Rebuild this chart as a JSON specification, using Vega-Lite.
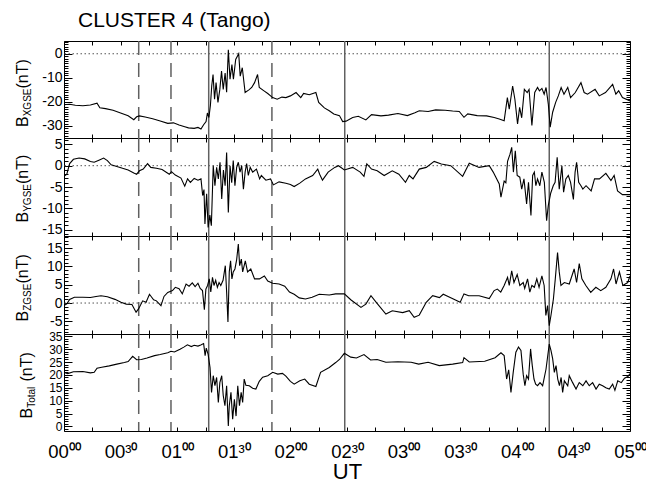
{
"$schema": "https://vega.github.io/schema/vega-lite/v6.json",
"padding": {"left": 13, "top": 9, "right": 17, "bottom": 5},
"spacing": 0,
"bounds": "flush",
"config": {"font": "Liberation Sans", "view": {"stroke": "black", "strokeWidth": 1}, "axis": {"tickColor": "black", "labelColor": "black", "titleColor": "black", "titleFontWeight": "normal", "tickWidth": 1}, "concat": {"spacing": 0}},
"datasets": {
"one": [{"z": 0}],
"events": [{"t": 39.6, "kind": "dashed"}, {"t": 56.7, "kind": "dashed"}, {"t": 110.2, "kind": "dashed"}, {"t": 76.7, "kind": "solid"}, {"t": 148.8, "kind": "solid"}, {"t": 257.2, "kind": "solid"}],
"bx": [{"t":0,"v":-21.2},{"t":3,"v":-21.0},{"t":6,"v":-21.4},{"t":10,"v":-21.6},{"t":14,"v":-21.3},{"t":17.5,"v":-20.5},{"t":19,"v":-22.4},{"t":22,"v":-22.8},{"t":26,"v":-23.5},{"t":30,"v":-24.6},{"t":34,"v":-25.8},{"t":37,"v":-27.4},{"t":38.5,"v":-26.2},{"t":40,"v":-25.8},{"t":43,"v":-26.3},{"t":47,"v":-27.0},{"t":51,"v":-27.9},{"t":55,"v":-28.9},{"t":58,"v":-28.7},{"t":61,"v":-29.6},{"t":64,"v":-30.3},{"t":66,"v":-30.8},{"t":69,"v":-31.0},{"t":71,"v":-30.6},{"t":72.6,"v":-31.3},{"t":74,"v":-29.5},{"t":75.3,"v":-28.2},{"t":76,"v":-24.6},{"t":76.8,"v":-26.5},{"t":77.6,"v":-21.5},{"t":78.3,"v":-13.4},{"t":79,"v":-8.6},{"t":79.8,"v":-18.9},{"t":80.6,"v":-12.0},{"t":81.6,"v":-20.2},{"t":82.6,"v":-14.8},{"t":83.5,"v":-7.2},{"t":84.4,"v":-14.8},{"t":85.4,"v":-8.0},{"t":86.2,"v":-16.0},{"t":87.1,"v":1.7},{"t":88,"v":-10.6},{"t":89,"v":-4.5},{"t":89.8,"v":-10.6},{"t":91,"v":-2.4},{"t":92.6,"v":0.0},{"t":93.4,"v":-9.3},{"t":94.5,"v":-5.8},{"t":96,"v":-16.1},{"t":98,"v":-15.0},{"t":99.5,"v":-14.0},{"t":101,"v":-12.0},{"t":102.6,"v":-8.6},{"t":103.5,"v":-14.0},{"t":106,"v":-15.4},{"t":108,"v":-16.5},{"t":110.6,"v":-18.2},{"t":113,"v":-18.9},{"t":115.5,"v":-18.0},{"t":117.6,"v":-18.2},{"t":120,"v":-17.5},{"t":123,"v":-16.1},{"t":125.5,"v":-18.2},{"t":127,"v":-16.5},{"t":130,"v":-17.0},{"t":133.5,"v":-16.1},{"t":135,"v":-20.2},{"t":138,"v":-22.5},{"t":140.6,"v":-23.7},{"t":143,"v":-25.0},{"t":146,"v":-25.7},{"t":147.7,"v":-28.2},{"t":149.5,"v":-28.0},{"t":153,"v":-26.5},{"t":156,"v":-26.0},{"t":160,"v":-27.5},{"t":163,"v":-25.3},{"t":168,"v":-25.8},{"t":172,"v":-25.5},{"t":177,"v":-24.8},{"t":182,"v":-25.7},{"t":186,"v":-24.5},{"t":188.3,"v":-23.7},{"t":193,"v":-24.0},{"t":197,"v":-23.3},{"t":202,"v":-23.5},{"t":206,"v":-23.8},{"t":209.5,"v":-24.0},{"t":212,"v":-26.4},{"t":214,"v":-25.0},{"t":219,"v":-25.7},{"t":224,"v":-25.8},{"t":228,"v":-26.5},{"t":230.7,"v":-27.1},{"t":233.3,"v":-27.8},{"t":235,"v":-18.2},{"t":236,"v":-23.0},{"t":237.8,"v":-13.4},{"t":239,"v":-19.0},{"t":240.4,"v":-29.2},{"t":241.5,"v":-22.3},{"t":242.6,"v":-26.6},{"t":244,"v":-14.8},{"t":245.5,"v":-16.1},{"t":246.5,"v":-14.8},{"t":248,"v":-29.8},{"t":249.5,"v":-16.1},{"t":251,"v":-14.0},{"t":252,"v":-15.4},{"t":253.3,"v":-14.4},{"t":254.5,"v":-16.8},{"t":255.5,"v":-14.0},{"t":256.7,"v":-20.9},{"t":257.7,"v":-30.5},{"t":259,"v":-24.3},{"t":260.6,"v":-20.2},{"t":262,"v":-17.5},{"t":263.5,"v":-14.0},{"t":265,"v":-16.8},{"t":267,"v":-14.0},{"t":268.5,"v":-18.2},{"t":271,"v":-16.1},{"t":274,"v":-12.0},{"t":275.7,"v":-16.1},{"t":277.5,"v":-16.8},{"t":281.5,"v":-14.8},{"t":283.7,"v":-17.5},{"t":287,"v":-16.1},{"t":290.8,"v":-12.7},{"t":292.5,"v":-16.8},{"t":294,"v":-15.4},{"t":296,"v":-18.2},{"t":300,"v":-19.6}],
"by": [{"t":0,"v":-2.5},{"t":1.5,"v":-2.0},{"t":3,"v":0.5},{"t":5,"v":1.5},{"t":8,"v":1.8},{"t":11,"v":1.6},{"t":14,"v":1.0},{"t":16,"v":0.8},{"t":18.5,"v":1.3},{"t":21,"v":1.8},{"t":23,"v":1.2},{"t":25,"v":0.2},{"t":28,"v":-0.2},{"t":31,"v":-0.6},{"t":34,"v":-1.0},{"t":37,"v":-1.7},{"t":38.5,"v":-2.0},{"t":40,"v":-1.2},{"t":42,"v":-0.8},{"t":44.3,"v":0.5},{"t":46,"v":-0.4},{"t":49,"v":-0.6},{"t":52,"v":-0.9},{"t":55.8,"v":-2.0},{"t":57,"v":-1.4},{"t":59,"v":-2.2},{"t":62,"v":-2.9},{"t":64,"v":-4.8},{"t":65.5,"v":-3.1},{"t":67,"v":-3.9},{"t":69,"v":-3.0},{"t":71,"v":-3.4},{"t":72.6,"v":-3.1},{"t":73.5,"v":-7.0},{"t":74.2,"v":-5.6},{"t":74.7,"v":-13.7},{"t":75.6,"v":-6.6},{"t":76.4,"v":-14.5},{"t":77.3,"v":-11.6},{"t":78.1,"v":-14.1},{"t":79.1,"v":0.0},{"t":80,"v":-4.7},{"t":80.9,"v":-0.4},{"t":81.8,"v":-3.1},{"t":82.7,"v":0.8},{"t":83.6,"v":-7.8},{"t":84.5,"v":-1.0},{"t":85.4,"v":-4.7},{"t":86.2,"v":3.1},{"t":87.1,"v":-11.0},{"t":88,"v":0.0},{"t":88.9,"v":-4.0},{"t":89.7,"v":1.2},{"t":90.6,"v":-4.7},{"t":91.5,"v":-0.4},{"t":92.4,"v":0.8},{"t":93.3,"v":-1.5},{"t":94.2,"v":0.0},{"t":95.1,"v":-5.5},{"t":96,"v":-1.5},{"t":96.8,"v":0.5},{"t":97.7,"v":-2.3},{"t":98.7,"v":-0.4},{"t":100,"v":-1.5},{"t":102,"v":-0.8},{"t":103.7,"v":-3.1},{"t":104.6,"v":-2.3},{"t":107,"v":-3.4},{"t":109.5,"v":-3.1},{"t":111,"v":-4.5},{"t":114,"v":-3.8},{"t":117.6,"v":-4.1},{"t":120,"v":-4.4},{"t":122,"v":-4.9},{"t":125,"v":-4.1},{"t":128,"v":-3.1},{"t":131.8,"v":-2.3},{"t":134.5,"v":-0.8},{"t":135.5,"v":-2.0},{"t":137,"v":-3.4},{"t":140,"v":-1.5},{"t":143.5,"v":-0.4},{"t":145.5,"v":0.0},{"t":148.6,"v":-1.0},{"t":153,"v":-0.4},{"t":157,"v":-1.5},{"t":159,"v":-2.5},{"t":160.5,"v":0.4},{"t":163,"v":-0.8},{"t":166,"v":-1.2},{"t":169.7,"v":-2.3},{"t":174,"v":-1.2},{"t":177.5,"v":-2.0},{"t":181,"v":-3.9},{"t":183,"v":-2.3},{"t":185,"v":-3.1},{"t":188.3,"v":-0.8},{"t":192,"v":-0.4},{"t":196.2,"v":1.0},{"t":200,"v":0.4},{"t":205,"v":0.0},{"t":211.3,"v":-2.5},{"t":214.8,"v":0.6},{"t":220,"v":-0.4},{"t":225.4,"v":0.0},{"t":227.5,"v":-1.5},{"t":230.7,"v":-4.3},{"t":231.6,"v":-7.4},{"t":233.3,"v":-3.6},{"t":234.2,"v":-4.0},{"t":235.1,"v":1.0},{"t":236.4,"v":2.7},{"t":237.3,"v":4.3},{"t":238.2,"v":-1.5},{"t":239.2,"v":3.5},{"t":240.2,"v":-2.3},{"t":241.6,"v":-2.7},{"t":242.6,"v":-5.5},{"t":243.8,"v":-3.1},{"t":245.2,"v":-9.0},{"t":246.2,"v":-3.9},{"t":247.5,"v":-11.7},{"t":248.4,"v":-2.3},{"t":249.3,"v":-1.5},{"t":250.1,"v":-4.7},{"t":251,"v":-3.1},{"t":252.2,"v":-4.7},{"t":253.3,"v":-1.5},{"t":254.6,"v":-3.9},{"t":255.8,"v":-12.9},{"t":256.7,"v":-9.3},{"t":258,"v":-6.4},{"t":259.3,"v":-4.7},{"t":260.3,"v":-3.9},{"t":261.4,"v":2.0},{"t":262.5,"v":-5.5},{"t":263.9,"v":0.0},{"t":264.8,"v":-6.2},{"t":266,"v":-3.1},{"t":267.3,"v":-2.3},{"t":268.5,"v":-3.9},{"t":270,"v":-7.9},{"t":270.9,"v":-1.5},{"t":271.7,"v":0.8},{"t":272.8,"v":-3.9},{"t":274,"v":-4.7},{"t":275,"v":-5.5},{"t":276.7,"v":-4.7},{"t":279.4,"v":-5.9},{"t":281.2,"v":-3.1},{"t":283.8,"v":-3.1},{"t":287.2,"v":-1.8},{"t":289.9,"v":-3.5},{"t":291.6,"v":-2.3},{"t":293.4,"v":-5.9},{"t":296,"v":-6.8},{"t":300,"v":-6.8}],
"bz": [{"t":0,"v":-0.7},{"t":1.5,"v":-0.2},{"t":3,"v":1.0},{"t":5.5,"v":1.6},{"t":10,"v":1.6},{"t":14,"v":1.5},{"t":17,"v":1.8},{"t":19.6,"v":2.0},{"t":23,"v":1.7},{"t":27,"v":1.0},{"t":30.2,"v":0.2},{"t":33,"v":-0.3},{"t":36,"v":-0.4},{"t":38.2,"v":-2.5},{"t":39.5,"v":-1.6},{"t":41.7,"v":0.6},{"t":43.5,"v":0.2},{"t":45.3,"v":2.4},{"t":47.5,"v":0.9},{"t":49,"v":0.6},{"t":51.4,"v":-0.7},{"t":53,"v":1.8},{"t":55,"v":2.9},{"t":57.5,"v":3.4},{"t":59,"v":4.3},{"t":61,"v":3.9},{"t":62.7,"v":2.5},{"t":64.7,"v":5.2},{"t":66.3,"v":4.6},{"t":68,"v":5.5},{"t":69.5,"v":4.5},{"t":71,"v":5.4},{"t":72.2,"v":4.0},{"t":73.4,"v":3.4},{"t":74.4,"v":-1.8},{"t":75.2,"v":3.8},{"t":76.1,"v":4.8},{"t":77,"v":6.6},{"t":77.8,"v":3.0},{"t":78.7,"v":7.0},{"t":79.5,"v":4.8},{"t":80.4,"v":6.2},{"t":81.3,"v":4.3},{"t":82.2,"v":5.6},{"t":83.1,"v":4.8},{"t":84.3,"v":6.2},{"t":85.5,"v":10.2},{"t":86.2,"v":3.0},{"t":86.9,"v":-5.2},{"t":87.6,"v":8.5},{"t":88.3,"v":11.5},{"t":89,"v":6.6},{"t":89.7,"v":8.5},{"t":90.6,"v":9.3},{"t":91.5,"v":11.8},{"t":92.4,"v":16.1},{"t":93.1,"v":10.2},{"t":94,"v":12.0},{"t":94.7,"v":8.5},{"t":96.1,"v":11.5},{"t":97.3,"v":8.5},{"t":99,"v":9.3},{"t":101,"v":6.6},{"t":103.6,"v":6.6},{"t":106.2,"v":7.4},{"t":108,"v":6.0},{"t":110.6,"v":5.4},{"t":114,"v":5.2},{"t":117,"v":4.6},{"t":119.5,"v":3.0},{"t":122,"v":2.4},{"t":124.7,"v":1.4},{"t":128,"v":1.1},{"t":131.5,"v":1.6},{"t":135.3,"v":2.4},{"t":140.6,"v":2.2},{"t":144,"v":2.5},{"t":148.6,"v":2.5},{"t":152,"v":0.9},{"t":157.4,"v":-1.2},{"t":160,"v":-0.3},{"t":162.7,"v":2.0},{"t":165.5,"v":0.2},{"t":170.6,"v":-3.0},{"t":174,"v":-2.1},{"t":179.5,"v":-2.6},{"t":183,"v":-2.1},{"t":185.6,"v":-3.9},{"t":188.3,"v":-3.3},{"t":192,"v":0.2},{"t":195.4,"v":2.0},{"t":199,"v":1.5},{"t":201,"v":2.4},{"t":204.7,"v":1.5},{"t":210,"v":0.2},{"t":212,"v":2.5},{"t":214.5,"v":2.0},{"t":220,"v":2.0},{"t":225.4,"v":1.2},{"t":228,"v":3.4},{"t":229.7,"v":3.8},{"t":231.5,"v":3.0},{"t":233.3,"v":4.8},{"t":235.1,"v":7.0},{"t":236,"v":4.8},{"t":237.3,"v":8.8},{"t":238.5,"v":5.6},{"t":240.2,"v":7.8},{"t":241.6,"v":4.8},{"t":243.4,"v":5.6},{"t":244.2,"v":4.0},{"t":245.7,"v":6.6},{"t":246.9,"v":3.0},{"t":248,"v":4.8},{"t":249.3,"v":4.3},{"t":250.6,"v":6.6},{"t":251.8,"v":4.3},{"t":253.3,"v":7.4},{"t":254.5,"v":4.8},{"t":255.4,"v":-3.4},{"t":256.3,"v":-0.7},{"t":257.2,"v":-6.2},{"t":258.1,"v":-3.4},{"t":259.4,"v":1.1},{"t":260.4,"v":6.6},{"t":261.6,"v":13.8},{"t":262.5,"v":8.5},{"t":263.4,"v":4.8},{"t":265.2,"v":5.6},{"t":267.8,"v":5.2},{"t":270.4,"v":9.3},{"t":271.7,"v":5.6},{"t":273.1,"v":10.8},{"t":274.5,"v":6.6},{"t":276.6,"v":4.8},{"t":279.2,"v":2.9},{"t":281.9,"v":4.3},{"t":284.5,"v":3.4},{"t":287.2,"v":4.3},{"t":289.9,"v":6.6},{"t":291.3,"v":9.3},{"t":292.6,"v":5.2},{"t":294.4,"v":8.5},{"t":296.2,"v":4.8},{"t":298.8,"v":5.6},{"t":300,"v":7.4}],
"bt": [{"t":0,"v":21.0},{"t":2,"v":20.5},{"t":5,"v":21.2},{"t":10,"v":21.3},{"t":14,"v":20.8},{"t":16,"v":21.0},{"t":17.5,"v":22.6},{"t":20,"v":23.0},{"t":24,"v":23.5},{"t":28,"v":24.2},{"t":32,"v":24.8},{"t":34,"v":25.2},{"t":36.4,"v":27.2},{"t":38.5,"v":25.9},{"t":41,"v":26.0},{"t":44,"v":26.6},{"t":48,"v":27.5},{"t":51,"v":27.9},{"t":55,"v":28.6},{"t":56.7,"v":29.2},{"t":58.5,"v":28.9},{"t":61.5,"v":30.0},{"t":63.5,"v":30.8},{"t":65.4,"v":31.7},{"t":67.5,"v":31.0},{"t":69,"v":31.5},{"t":71,"v":31.2},{"t":72.5,"v":31.6},{"t":74,"v":32.2},{"t":74.8,"v":27.5},{"t":75.4,"v":30.4},{"t":76.4,"v":28.0},{"t":77.4,"v":22.9},{"t":78.2,"v":13.2},{"t":79.1,"v":19.7},{"t":80,"v":15.8},{"t":80.9,"v":19.0},{"t":81.8,"v":9.3},{"t":82.6,"v":17.0},{"t":83.6,"v":19.7},{"t":84.4,"v":12.0},{"t":85.3,"v":8.0},{"t":86.2,"v":15.8},{"t":87.1,"v":0.2},{"t":87.6,"v":8.0},{"t":88.5,"v":13.2},{"t":89.4,"v":2.8},{"t":90.3,"v":10.5},{"t":91.2,"v":4.0},{"t":92.1,"v":15.8},{"t":93,"v":8.0},{"t":93.9,"v":13.2},{"t":94.7,"v":9.3},{"t":95.5,"v":18.4},{"t":96.4,"v":16.0},{"t":98.2,"v":15.8},{"t":100,"v":14.8},{"t":101.7,"v":14.5},{"t":103.5,"v":17.5},{"t":105.3,"v":19.1},{"t":108,"v":19.7},{"t":110.6,"v":21.0},{"t":113.3,"v":20.3},{"t":115.8,"v":20.6},{"t":117.6,"v":19.5},{"t":120,"v":17.5},{"t":122,"v":16.4},{"t":125,"v":17.7},{"t":127.6,"v":18.4},{"t":130,"v":16.4},{"t":133.5,"v":15.5},{"t":136,"v":21.0},{"t":140.6,"v":22.9},{"t":144,"v":24.8},{"t":146,"v":26.0},{"t":148.6,"v":28.4},{"t":152,"v":26.9},{"t":155,"v":26.6},{"t":159,"v":27.9},{"t":162.5,"v":25.8},{"t":166,"v":26.0},{"t":170.6,"v":24.9},{"t":177,"v":25.1},{"t":184,"v":24.9},{"t":188,"v":24.2},{"t":193,"v":24.9},{"t":198.9,"v":23.6},{"t":206,"v":24.2},{"t":211.3,"v":24.8},{"t":212,"v":26.7},{"t":214.8,"v":25.0},{"t":223,"v":25.3},{"t":228.5,"v":26.7},{"t":231.6,"v":28.6},{"t":233.3,"v":27.5},{"t":234.6,"v":18.4},{"t":235.7,"v":22.0},{"t":236.9,"v":13.2},{"t":238.1,"v":21.0},{"t":239.5,"v":28.8},{"t":240.9,"v":30.8},{"t":242.2,"v":29.5},{"t":243.4,"v":20.2},{"t":244.3,"v":15.8},{"t":245.2,"v":19.7},{"t":246.2,"v":18.4},{"t":247.3,"v":30.1},{"t":248.2,"v":23.6},{"t":249.1,"v":18.4},{"t":250,"v":16.4},{"t":251,"v":15.8},{"t":252.3,"v":17.0},{"t":253.7,"v":15.8},{"t":255.5,"v":22.3},{"t":257.2,"v":32.0},{"t":258.1,"v":29.5},{"t":259,"v":26.3},{"t":259.9,"v":21.0},{"t":260.8,"v":23.6},{"t":261.7,"v":18.4},{"t":262.6,"v":15.8},{"t":263.5,"v":19.0},{"t":264.3,"v":13.2},{"t":265.2,"v":17.7},{"t":267,"v":15.8},{"t":267.8,"v":19.7},{"t":269.6,"v":17.0},{"t":271.4,"v":14.5},{"t":273.1,"v":17.0},{"t":275,"v":15.8},{"t":276.7,"v":17.7},{"t":278.4,"v":15.8},{"t":280.2,"v":17.0},{"t":282,"v":14.5},{"t":283.7,"v":16.4},{"t":285.5,"v":15.8},{"t":287.2,"v":15.0},{"t":289,"v":14.5},{"t":290.8,"v":16.4},{"t":292,"v":14.0},{"t":293.5,"v":17.7},{"t":295.4,"v":17.0},{"t":297.1,"v":18.7},{"t":298.9,"v":19.4},{"t":300,"v":20.5}]
},
"vconcat": [
{
"width": 566, "height": 97,
"title": {"text": "CLUSTER 4 (Tango)", "anchor": "start", "frame": "group", "dx": 14, "offset": -8, "baseline": "alphabetic", "fontSize": 21, "fontWeight": "normal", "color": "black"},
"layer": [
{"data": {"name": "one"}, "mark": {"type": "rule", "color": "#555555", "strokeDash": [1.5, 2.5], "strokeWidth": 1},
 "encoding": {"y": {"datum": 0, "type": "quantitative", "scale": {"domain": [-35, 5.3], "nice": false, "zero": false},
   "axis": {"orient": "right", "values": [-35,-34,-33,-32,-31,-30,-29,-28,-27,-26,-25,-24,-23,-22,-21,-20,-19,-18,-17,-16,-15,-14,-13,-12,-11,-10,-9,-8,-7,-6,-5,-4,-3,-2,-1,0,1,2,3,4,5], "labels": false, "tickSize": {"condition": {"test": "datum.value % 10 == 0", "value": -8}, "value": -4}, "domain": false, "grid": false, "title": null}}}},
{"data": {"name": "events"}, "transform": [{"filter": "datum.kind == 'dashed'"}], "mark": {"type": "rule", "color": "#606060", "strokeDash": [14, 8], "strokeWidth": 1.5},
 "encoding": {"x": {"field": "t", "type": "quantitative", "scale": {"domain": [0, 300], "nice": false, "zero": false},
   "axis": {"orient": "top", "values": [0,15,30,45,60,75,90,105,120,135,150,165,180,195,210,225,240,255,270,285,300], "labels": false, "tickSize": -4, "domain": false, "grid": false, "title": null}}}},
{"data": {"name": "events"}, "transform": [{"filter": "datum.kind == 'solid'"}], "mark": {"type": "rule", "color": "#606060", "strokeWidth": 1.5},
 "encoding": {"x": {"field": "t", "type": "quantitative", "scale": {"domain": [0, 300], "nice": false, "zero": false}, "axis": null}}},
{"data": {"name": "one"}, "mark": {"type": "rule", "opacity": 0},
 "encoding": {"y": {"datum": 0, "type": "quantitative", "scale": {"domain": [-35, 5.3], "nice": false, "zero": false},
   "axis": {"orient": "left", "values": [-35,-34,-33,-32,-31,-30,-29,-28,-27,-26,-25,-24,-23,-22,-21,-20,-19,-18,-17,-16,-15,-14,-13,-12,-11,-10,-9,-8,-7,-6,-5,-4,-3,-2,-1,0,1,2,3,4,5], "ticks": true, "tickSize": -4, "labels": false, "domain": false, "grid": false, "title": "XGSE", "titleFontSize": 10, "titleAngle": 270, "titleAlign": "left", "titleBaseline": "alphabetic", "titleX": -34, "titleY": 74.8}}}},
{"data": {"name": "one"}, "mark": {"type": "rule", "opacity": 0},
 "encoding": {"y": {"datum": 0, "type": "quantitative", "scale": {"domain": [-35, 5.3], "nice": false, "zero": false},
   "axis": {"orient": "left", "ticks": false, "labels": false, "domain": false, "grid": false, "title": "(nT)", "titleFontSize": 16, "titleAngle": 270, "titleAlign": "left", "titleBaseline": "alphabetic", "titleX": -37, "titleY": 47}}}},
{"data": {"name": "bx"}, "mark": {"type": "line", "color": "black", "strokeWidth": 1.1, "clip": true},
 "encoding": {
  "x": {"field": "t", "type": "quantitative", "scale": {"domain": [0, 300], "nice": false, "zero": false},
   "axis": {"orient": "bottom", "values": [0,15,30,45,60,75,90,105,120,135,150,165,180,195,210,225,240,255,270,285,300], "labels": false, "tickSize": -4, "domain": false, "grid": false, "title": null}},
  "y": {"field": "v", "type": "quantitative", "scale": {"domain": [-35, 5.3], "nice": false, "zero": false},
   "axis": {"orient": "left", "values": [-30,-20,-10,0], "tickSize": -8, "labelPadding": 10, "labelFontSize": 14, "labelOverlap": false, "labelFlush": false, "labelExpr": "'' + datum.value", "domain": false, "grid": false, "title": "B", "titleFontSize": 16, "titleAngle": 270, "titleAlign": "left", "titleBaseline": "alphabetic", "titleX": -37, "titleY": 85.5}}
 }}
],
"resolve": {"axis": {"x": "independent", "y": "independent"}}
},
{
"width": 566, "height": 98,
"layer": [
{"data": {"name": "one"}, "mark": {"type": "rule", "color": "#555555", "strokeDash": [1.5, 2.5], "strokeWidth": 1},
 "encoding": {"y": {"datum": 0, "type": "quantitative", "scale": {"domain": [-16.5, 6.5], "nice": false, "zero": false},
   "axis": {"orient": "right", "values": [-16,-15,-14,-13,-12,-11,-10,-9,-8,-7,-6,-5,-4,-3,-2,-1,0,1,2,3,4,5,6], "labels": false, "tickSize": {"condition": {"test": "datum.value % 5 == 0", "value": -8}, "value": -4}, "domain": false, "grid": false, "title": null}}}},
{"data": {"name": "events"}, "transform": [{"filter": "datum.kind == 'dashed'"}], "mark": {"type": "rule", "color": "#606060", "strokeDash": [14, 8], "strokeWidth": 1.5},
 "encoding": {"x": {"field": "t", "type": "quantitative", "scale": {"domain": [0, 300], "nice": false, "zero": false},
   "axis": {"orient": "top", "values": [0,15,30,45,60,75,90,105,120,135,150,165,180,195,210,225,240,255,270,285,300], "labels": false, "tickSize": -4, "domain": false, "grid": false, "title": null}}}},
{"data": {"name": "events"}, "transform": [{"filter": "datum.kind == 'solid'"}], "mark": {"type": "rule", "color": "#606060", "strokeWidth": 1.5},
 "encoding": {"x": {"field": "t", "type": "quantitative", "scale": {"domain": [0, 300], "nice": false, "zero": false}, "axis": null}}},
{"data": {"name": "one"}, "mark": {"type": "rule", "opacity": 0},
 "encoding": {"y": {"datum": 0, "type": "quantitative", "scale": {"domain": [-16.5, 6.5], "nice": false, "zero": false},
   "axis": {"orient": "left", "values": [-16,-15,-14,-13,-12,-11,-10,-9,-8,-7,-6,-5,-4,-3,-2,-1,0,1,2,3,4,5,6], "ticks": true, "tickSize": -4, "labels": false, "domain": false, "grid": false, "title": "YGSE", "titleFontSize": 10, "titleAngle": 270, "titleAlign": "left", "titleBaseline": "alphabetic", "titleX": -34, "titleY": 73.3}}}},
{"data": {"name": "one"}, "mark": {"type": "rule", "opacity": 0},
 "encoding": {"y": {"datum": 0, "type": "quantitative", "scale": {"domain": [-16.5, 6.5], "nice": false, "zero": false},
   "axis": {"orient": "left", "ticks": false, "labels": false, "domain": false, "grid": false, "title": "(nT)", "titleFontSize": 16, "titleAngle": 270, "titleAlign": "left", "titleBaseline": "alphabetic", "titleX": -37, "titleY": 45.5}}}},
{"data": {"name": "by"}, "mark": {"type": "line", "color": "black", "strokeWidth": 1.1, "clip": true},
 "encoding": {
  "x": {"field": "t", "type": "quantitative", "scale": {"domain": [0, 300], "nice": false, "zero": false},
   "axis": {"orient": "bottom", "values": [0,15,30,45,60,75,90,105,120,135,150,165,180,195,210,225,240,255,270,285,300], "labels": false, "tickSize": -4, "domain": false, "grid": false, "title": null}},
  "y": {"field": "v", "type": "quantitative", "scale": {"domain": [-16.5, 6.5], "nice": false, "zero": false},
   "axis": {"orient": "left", "values": [-15,-10,-5,0,5], "tickSize": -8, "labelPadding": 10, "labelFontSize": 14, "labelOverlap": false, "labelFlush": false, "labelExpr": "'' + datum.value", "domain": false, "grid": false, "title": "B", "titleFontSize": 16, "titleAngle": 270, "titleAlign": "left", "titleBaseline": "alphabetic", "titleX": -37, "titleY": 84}}
 }}
],
"resolve": {"axis": {"x": "independent", "y": "independent"}}
},
{
"width": 566, "height": 98,
"layer": [
{"data": {"name": "one"}, "mark": {"type": "rule", "color": "#555555", "strokeDash": [1.5, 2.5], "strokeWidth": 1},
 "encoding": {"y": {"datum": 0, "type": "quantitative", "scale": {"domain": [-8.45, 18.3], "nice": false, "zero": false},
   "axis": {"orient": "right", "values": [-8,-7,-6,-5,-4,-3,-2,-1,0,1,2,3,4,5,6,7,8,9,10,11,12,13,14,15,16,17,18], "labels": false, "tickSize": {"condition": {"test": "datum.value % 5 == 0", "value": -8}, "value": -4}, "domain": false, "grid": false, "title": null}}}},
{"data": {"name": "events"}, "transform": [{"filter": "datum.kind == 'dashed'"}], "mark": {"type": "rule", "color": "#606060", "strokeDash": [14, 8], "strokeWidth": 1.5},
 "encoding": {"x": {"field": "t", "type": "quantitative", "scale": {"domain": [0, 300], "nice": false, "zero": false},
   "axis": {"orient": "top", "values": [0,15,30,45,60,75,90,105,120,135,150,165,180,195,210,225,240,255,270,285,300], "labels": false, "tickSize": -4, "domain": false, "grid": false, "title": null}}}},
{"data": {"name": "events"}, "transform": [{"filter": "datum.kind == 'solid'"}], "mark": {"type": "rule", "color": "#606060", "strokeWidth": 1.5},
 "encoding": {"x": {"field": "t", "type": "quantitative", "scale": {"domain": [0, 300], "nice": false, "zero": false}, "axis": null}}},
{"data": {"name": "one"}, "mark": {"type": "rule", "opacity": 0},
 "encoding": {"y": {"datum": 0, "type": "quantitative", "scale": {"domain": [-8.45, 18.3], "nice": false, "zero": false},
   "axis": {"orient": "left", "values": [-8,-7,-6,-5,-4,-3,-2,-1,0,1,2,3,4,5,6,7,8,9,10,11,12,13,14,15,16,17,18], "ticks": true, "tickSize": -4, "labels": false, "domain": false, "grid": false, "title": "ZGSE", "titleFontSize": 10, "titleAngle": 270, "titleAlign": "left", "titleBaseline": "alphabetic", "titleX": -34, "titleY": 74.3}}}},
{"data": {"name": "one"}, "mark": {"type": "rule", "opacity": 0},
 "encoding": {"y": {"datum": 0, "type": "quantitative", "scale": {"domain": [-8.45, 18.3], "nice": false, "zero": false},
   "axis": {"orient": "left", "ticks": false, "labels": false, "domain": false, "grid": false, "title": "(nT)", "titleFontSize": 16, "titleAngle": 270, "titleAlign": "left", "titleBaseline": "alphabetic", "titleX": -37, "titleY": 47}}}},
{"data": {"name": "bz"}, "mark": {"type": "line", "color": "black", "strokeWidth": 1.1, "clip": true},
 "encoding": {
  "x": {"field": "t", "type": "quantitative", "scale": {"domain": [0, 300], "nice": false, "zero": false},
   "axis": {"orient": "bottom", "values": [0,15,30,45,60,75,90,105,120,135,150,165,180,195,210,225,240,255,270,285,300], "labels": false, "tickSize": -4, "domain": false, "grid": false, "title": null}},
  "y": {"field": "v", "type": "quantitative", "scale": {"domain": [-8.45, 18.3], "nice": false, "zero": false},
   "axis": {"orient": "left", "values": [-5,0,5,10,15], "tickSize": -8, "labelPadding": 10, "labelFontSize": 14, "labelOverlap": false, "labelFlush": false, "labelExpr": "'' + datum.value", "domain": false, "grid": false, "title": "B", "titleFontSize": 16, "titleAngle": 270, "titleAlign": "left", "titleBaseline": "alphabetic", "titleX": -37, "titleY": 85}}
 }}
],
"resolve": {"axis": {"x": "independent", "y": "independent"}}
},
{
"width": 566, "height": 97,
"layer": [
{"data": {"name": "one"}, "mark": {"type": "rule", "opacity": 0},
 "encoding": {"y": {"datum": 0, "type": "quantitative", "scale": {"domain": [-1.8, 35.9], "nice": false, "zero": false},
   "axis": {"orient": "right", "values": [-1,0,1,2,3,4,5,6,7,8,9,10,11,12,13,14,15,16,17,18,19,20,21,22,23,24,25,26,27,28,29,30,31,32,33,34,35], "labels": false, "tickSize": {"condition": {"test": "datum.value % 5 == 0", "value": -8}, "value": -4}, "domain": false, "grid": false, "title": null}}}},
{"data": {"name": "events"}, "transform": [{"filter": "datum.kind == 'dashed'"}], "mark": {"type": "rule", "color": "#606060", "strokeDash": [14, 8], "strokeWidth": 1.5},
 "encoding": {"x": {"field": "t", "type": "quantitative", "scale": {"domain": [0, 300], "nice": false, "zero": false},
   "axis": {"orient": "top", "values": [0,15,30,45,60,75,90,105,120,135,150,165,180,195,210,225,240,255,270,285,300], "labels": false, "tickSize": -4, "domain": false, "grid": false, "title": null}}}},
{"data": {"name": "events"}, "transform": [{"filter": "datum.kind == 'solid'"}], "mark": {"type": "rule", "color": "#606060", "strokeWidth": 1.5},
 "encoding": {"x": {"field": "t", "type": "quantitative", "scale": {"domain": [0, 300], "nice": false, "zero": false}, "axis": null}}},
{"data": {"name": "one"}, "mark": {"type": "rule", "opacity": 0},
 "encoding": {"y": {"datum": 0, "type": "quantitative", "scale": {"domain": [-1.8, 35.9], "nice": false, "zero": false},
   "axis": {"orient": "left", "values": [-1,0,1,2,3,4,5,6,7,8,9,10,11,12,13,14,15,16,17,18,19,20,21,22,23,24,25,26,27,28,29,30,31,32,33,34,35], "ticks": true, "tickSize": -4, "labels": false, "domain": false, "grid": false, "title": "Total", "titleFontSize": 10, "titleAngle": 270, "titleAlign": "left", "titleBaseline": "alphabetic", "titleX": -30, "titleY": 73.3}}}},
{"data": {"name": "one"}, "mark": {"type": "rule", "opacity": 0},
 "encoding": {"y": {"datum": 0, "type": "quantitative", "scale": {"domain": [-1.8, 35.9], "nice": false, "zero": false},
   "axis": {"orient": "left", "ticks": false, "labels": false, "domain": false, "grid": false, "title": "(nT)", "titleFontSize": 16, "titleAngle": 270, "titleAlign": "left", "titleBaseline": "alphabetic", "titleX": -33, "titleY": 47}}}},
{"data": {"name": "bt"}, "mark": {"type": "line", "color": "black", "strokeWidth": 1.1, "clip": true},
 "encoding": {
  "x": {"field": "t", "type": "quantitative", "scale": {"domain": [0, 300], "nice": false, "zero": false},
   "axis": {"orient": "bottom", "values": [0,15,30,45,60,75,90,105,120,135,150,165,180,195,210,225,240,255,270,285,300], "labelExpr": "datum.value % 30 == 0 ? '0' + floor(datum.value / 60) + (datum.value % 60 == 0 ? '⁰⁰' : '³⁰') : ''", "labelFontSize": 18.5, "labelPadding": 15, "labelOverlap": false, "labelFlush": false, "tickSize": -4, "domain": false, "grid": false, "title": "UT", "titleFontSize": 22, "titlePadding": 1}},
  "y": {"field": "v", "type": "quantitative", "scale": {"domain": [-1.8, 35.9], "nice": false, "zero": false},
   "axis": {"orient": "left", "values": [0,5,10,15,20,25,30,35], "tickSize": -8, "labelPadding": 10, "labelFontSize": 12, "labelOverlap": false, "labelFlush": false, "labelExpr": "'' + datum.value", "domain": false, "grid": false, "title": "B", "titleFontSize": 16, "titleAngle": 270, "titleAlign": "left", "titleBaseline": "alphabetic", "titleX": -33, "titleY": 84}}
 }}
],
"resolve": {"axis": {"x": "independent", "y": "independent"}}
}
]
}
